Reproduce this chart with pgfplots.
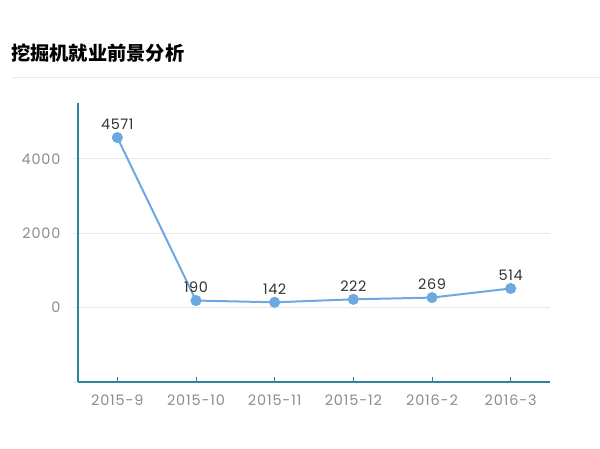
\documentclass[border=0pt]{standalone}
\usepackage{pgfplots}
\pgfplotsset{compat=1.18}
\usepackage{fontspec}
\setmainfont{Poppins}
\newfontfamily\tickfont{Poppins}[LetterSpace=6]
\newfontfamily\labfont{Poppins}[LetterSpace=4]
\newfontfamily\cjk{Noto Sans CJK SC}
\definecolor{axisteal}{RGB}{45,130,160}
\definecolor{linec}{RGB}{110,168,225}
\definecolor{tickgray}{RGB}{140,140,140}
\definecolor{gridgray}{RGB}{232,232,232}
\begin{document}
\begin{tikzpicture}[x=1bp,y=1bp]
\path[use as bounding box] (0,0) rectangle (600,449);
\node[anchor=west, inner sep=0pt, font=\cjk\bfseries\fontsize{19.3}{21}\selectfont, text=black] at (11,396) {挖掘机就业前景分析};
\draw[gridgray, line width=1bp] (12,371) -- (600,371);
\begin{axis}[
  at={(78bp,67bp)}, anchor=south west,
  scale only axis, width=472bp, height=279bp,
  xmin=-0.5, xmax=5.5, ymin=-2000, ymax=5500,
  axis x line*=bottom, axis y line*=left,
  axis line style={axisteal, line width=1.2bp},
  xtick={0,1,2,3,4,5},
  xticklabels={2015-9,2015-10,2015-11,2015-12,2016-2,2016-3},
  ytick={-2000,0,2000,4000},
  yticklabels={,0,2000,4000},
  ymajorgrids, grid style={gridgray, line width=0.8bp},
  tick align=outside,
  major tick length=5bp,
  x tick style={axisteal, line width=1bp, yshift=5bp},
  y tick style={gridgray, line width=0.8bp},
  ticklabel style={font=\tickfont\fontsize{14.5}{16}\selectfont, text=tickgray},
  xticklabel style={yshift=-4bp},
  yticklabel style={xshift=-9bp},
  /pgf/number format/assume math mode=true,
  /pgf/number format/1000 sep={},
  nodes near coords,
  every node near coord/.append style={font=\labfont\fontsize{14.5}{16}\selectfont, text=black!80, yshift=3.5bp},
  clip=false,
]
\addplot[color=linec, line width=2bp, mark=*, mark size=4.5bp, mark options={fill=linec, draw=linec}]
  coordinates {(0,4571) (1,190) (2,142) (3,222) (4,269) (5,514)};
\end{axis}
\end{tikzpicture}
\end{document}
